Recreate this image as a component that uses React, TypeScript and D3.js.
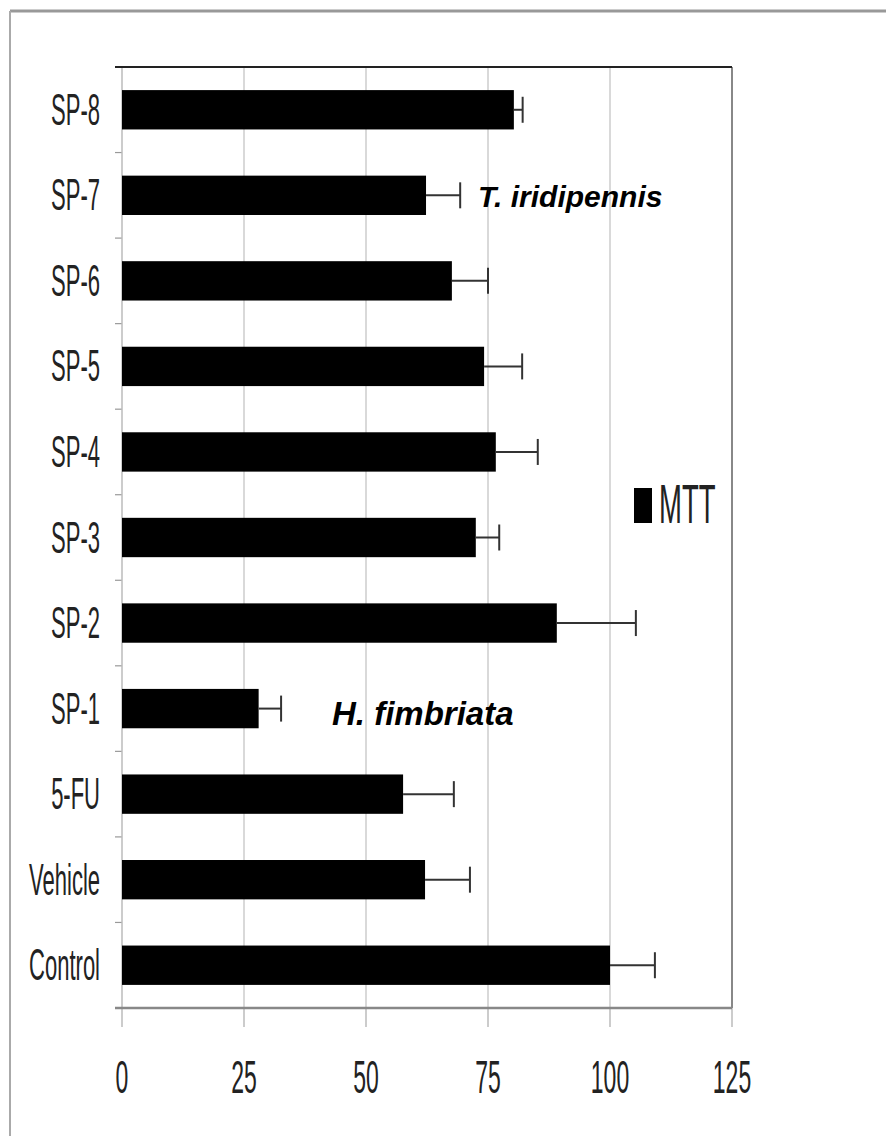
import React from 'react';
import * as d3 from 'd3';

// MTT values (% of control) and upper error, top to bottom
const categories = ['SP-8', 'SP-7', 'SP-6', 'SP-5', 'SP-4', 'SP-3', 'SP-2', 'SP-1', '5-FU', 'Vehicle', 'Control'];
const mttValues = [80.3, 62.3, 67.6, 74.2, 76.6, 72.5, 89.1, 28.0, 57.6, 62.1, 100];
const mttErrors = [1.8, 7.0, 7.4, 7.8, 8.6, 4.8, 16.2, 4.6, 10.4, 9.2, 9.2];
const xTicks = [0, 25, 50, 75, 100, 125];

const W = 886;
const H = 1136;
const left = 122;
const right = 732;
const top = 67;
const bottom = 1008;
const condensed = 0.5;
const font = '"Liberation Sans", Arial, sans-serif';

const App = () => {
  const x = d3.scaleLinear().domain([0, 125]).range([left, right]);
  const y = d3.scaleBand<string>().domain(categories).range([top, bottom]).paddingInner(0.54).paddingOuter(0.27);
  const step = y.step();
  const bounds = d3.range(categories.length + 1).map(i => top + i * step);

  const narrow = (tx: number, ty: number, anchor: string, size: number, label: string, key?: string) => (
    <text
      key={key}
      transform={`translate(${tx},${ty}) scale(${condensed},1)`}
      textAnchor={anchor}
      fontSize={size}
      fontFamily={font}
      fill="#222"
    >
      {label}
    </text>
  );

  return (
    <svg width={W} height={H} style={{ position: 'absolute', left: 0, top: 0, background: '#fff' }}>
      {/* outer frame */}
      <line x1={10} x2={W} y1={11} y2={11} stroke="#999" strokeWidth={3} />
      <line x1={10} x2={10} y1={11} y2={H} stroke="#aaa" strokeWidth={2} />

      {/* gridlines */}
      {xTicks.slice(1).map(t => (
        <line key={`g${t}`} x1={x(t)} x2={x(t)} y1={top} y2={bottom} stroke="#ccc" strokeWidth={1.5} />
      ))}
      {/* x ticks */}
      {xTicks.map(t => (
        <line key={`t${t}`} x1={x(t)} x2={x(t)} y1={bottom} y2={1027} stroke="#bbb" strokeWidth={1.5} />
      ))}
      {/* y category ticks */}
      {bounds.map((b, i) => (
        <line key={`c${i}`} x1={115} x2={left} y1={b} y2={b} stroke="#999" strokeWidth={1.2} />
      ))}
      <line x1={left} x2={left} y1={top} y2={bottom} stroke="#bbb" strokeWidth={1.5} />
      <line x1={right} x2={right} y1={top} y2={bottom} stroke="#888" strokeWidth={2} />
      <line x1={115} x2={right} y1={top} y2={top} stroke="#222" strokeWidth={2} />
      <line x1={115} x2={right} y1={bottom} y2={bottom} stroke="#888" strokeWidth={2.5} />

      {/* bars and error bars */}
      {categories.map((c, i) => {
        const yc = (y(c) as number) + y.bandwidth() / 2;
        const xe = x(mttValues[i] + mttErrors[i]);
        return (
          <g key={c}>
            <rect x={left} y={y(c)} width={x(mttValues[i]) - left} height={y.bandwidth()} fill="#000" />
            <line x1={x(mttValues[i])} x2={xe} y1={yc} y2={yc} stroke="#333" strokeWidth={2} />
            <line x1={xe} x2={xe} y1={yc - 13} y2={yc + 13} stroke="#333" strokeWidth={2} />
          </g>
        );
      })}

      {/* category labels */}
      {categories.map(c => narrow(100, (y(c) as number) + y.bandwidth() / 2 + 15, 'end', 44, c, `l${c}`))}
      {/* x tick labels */}
      {xTicks.map(t => narrow(x(t), 1093, 'middle', 46, String(t), `x${t}`))}

      {/* species annotations */}
      <text x={478} y={207} fontSize={30} fontFamily={font} fontWeight="bold" fontStyle="italic" fill="#000">
        T. iridipennis
      </text>
      <text x={332} y={725} fontSize={33} fontFamily={font} fontWeight="bold" fontStyle="italic" fill="#000">
        H. fimbriata
      </text>

      {/* legend */}
      <rect x={634} y={488} width={18} height={35} fill="#000" />
      {narrow(659, 523, 'start', 55, 'MTT')}
    </svg>
  );
};

export default App;
